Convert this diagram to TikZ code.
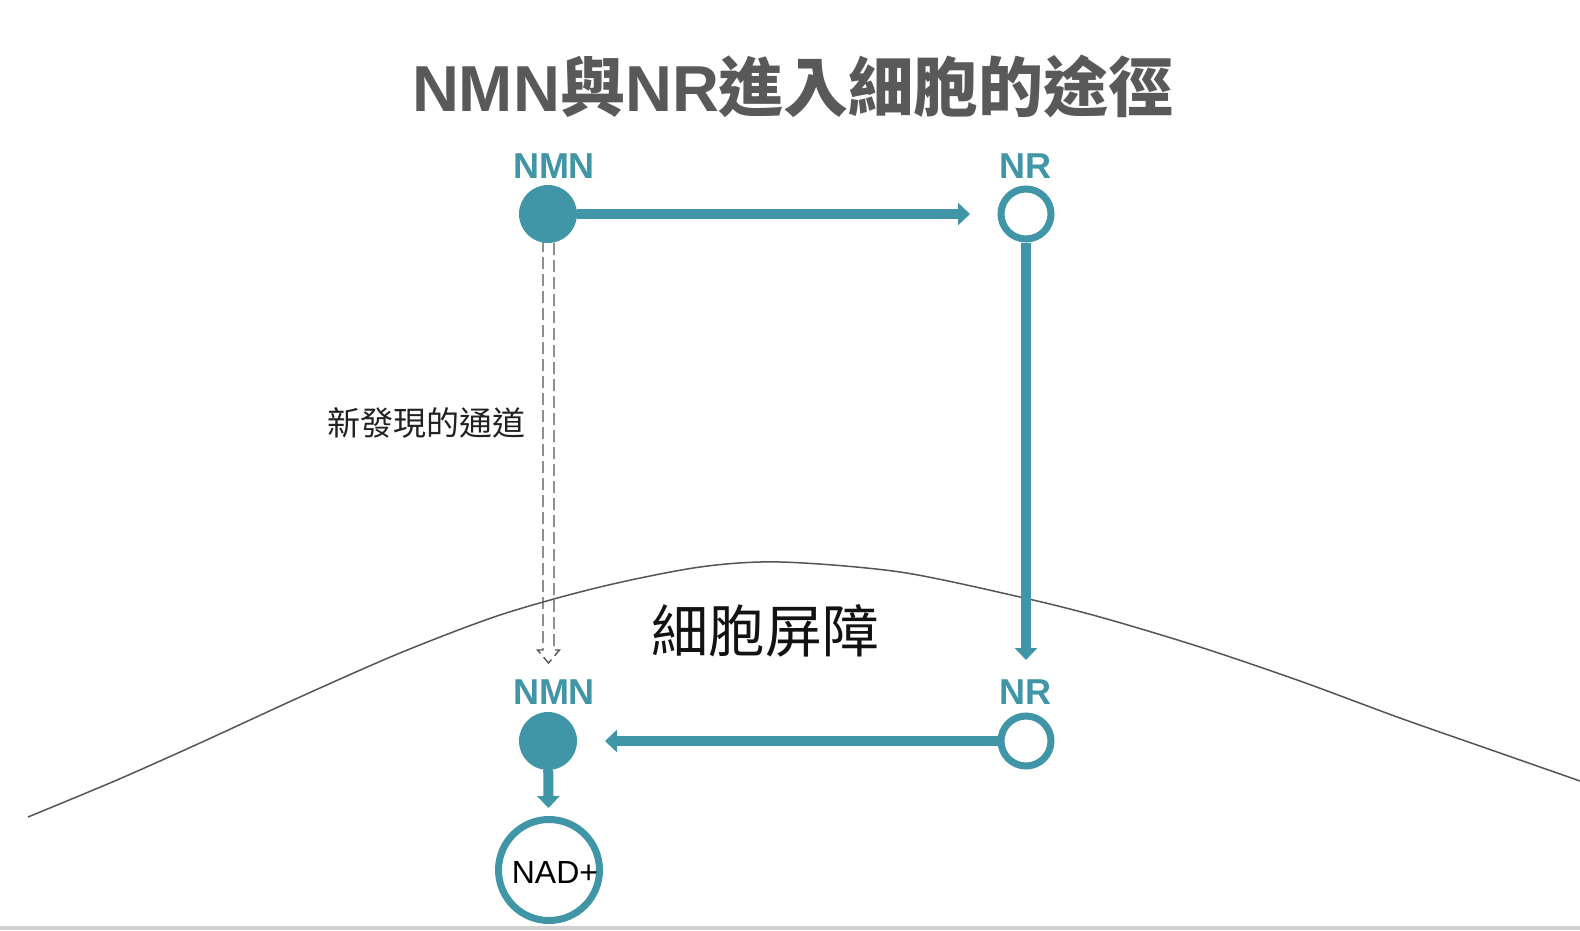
\documentclass[tikz,border=0pt]{standalone}
\usepackage{fontspec}
\setmainfont{Liberation Sans}
\newfontfamily\cjk{Noto Sans CJK TC}
\usetikzlibrary{arrows.meta}
\definecolor{teal1}{RGB}{64,150,166}
\definecolor{titlegray}{RGB}{89,89,89}
\definecolor{linegray}{RGB}{85,85,85}
\definecolor{bargray}{RGB}{208,208,208}
\begin{document}
\begin{tikzpicture}[x=1pt,y=-1pt,
  fillc/.style={circle,fill=teal1,draw=none,minimum size=58pt,inner sep=0pt,outer sep=0pt},
  openc/.style={circle,fill=white,draw=teal1,line width=7pt,minimum size=50pt,inner sep=0pt},
  nadc/.style={circle,fill=white,draw=teal1,line width=7pt,minimum size=101pt,inner sep=0pt},
  lbl/.style={font=\fontsize{36}{40}\selectfont\bfseries,text=teal1,inner sep=0pt},
  arr/.style={draw=teal1,line width=10pt,-{Triangle[width=22pt,length=12pt]}},
  dashline/.style={draw=linegray,line width=1.4pt,dash pattern=on 12pt off 5pt},
]
\useasboundingbox (0,0) rectangle (1580,930);
\fill[white] (0,0) rectangle (1580,930);
\fill[bargray] (0,926) rectangle (1580,930);

% cell barrier curve
\draw[linegray,line width=1.5pt] plot[smooth,tension=0.5] coordinates
  {(28,817) (117,780) (200,743) (300,697) (400,653) (500,615) (600,587) (700,567) (781,562)
   (900,572) (1020,597) (1100,617) (1200,647) (1300,681) (1400,718) (1500,753) (1580,781)};

% title
\node[font=\fontsize{65}{72}\selectfont\bfseries,text=titlegray,inner sep=0pt] (title) at (793,86)
  {NMN{\cjk 與}NR{\cjk 進入細胞的途徑}};

% dashed hollow arrow (new channel)
\draw[dashline] (543,240) -- (543,650) -- (537.5,650) -- (548.5,663) -- (559.5,650) -- (554,650) -- (554,240) -- cycle;

% nodes
\node[fillc] (nmn1) at (548,214) {};
\node[openc] (nr1) at (1026,214) {};
\node[fillc] (nmn2) at (548,741) {};
\node[openc] (nr2) at (1026,741) {};
\node[nadc] (nad) at (549,870) {};
\node[font=\fontsize{32}{36}\selectfont,text=black,inner sep=0pt] (nadtxt) at (555,872) {NAD+};

\node[lbl] (l1) at (554,166) {NMN};
\node[lbl] (l2) at (1025,166) {NR};
\node[lbl] (l3) at (554,692) {NMN};
\node[lbl] (l4) at (1025,692) {NR};

\node[font=\cjk\fontsize{33}{36}\selectfont,text=black!87,inner sep=0pt] (chan) at (426,423) {新發現的通道};
\node[font=\cjk\fontsize{57}{62}\selectfont,text=black!93,inner sep=0pt] (barrier) at (765,631) {細胞屏障};

% connectors
\draw[arr,shorten >=27.5pt] (nmn1) -- (nr1);
\draw[arr,shorten >=52.5pt] (nr1) -- (nr2);
\draw[arr,shorten >=28pt] (nr2) -- (nmn2);
\draw[arr,shorten >=8pt] (nmn2) -- (nad);
\end{tikzpicture}
\end{document}
